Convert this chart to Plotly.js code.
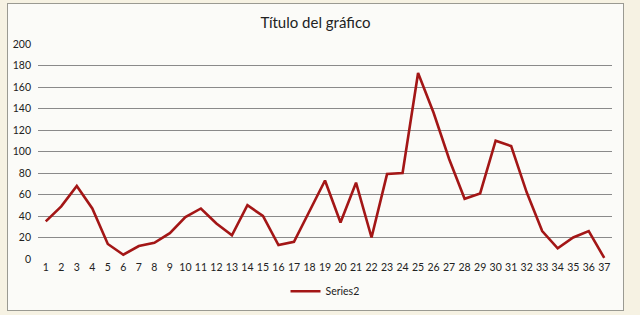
<!DOCTYPE html>
<html>
<head>
<meta charset="utf-8">
<script src="https://cdn.plot.ly/plotly-3.0.1.min.js"></script>
<style>
  html, body { margin:0; padding:0; width:640px; height:315px; background:#f6f2e3; overflow:hidden; }
  #chart { position:absolute; left:7px; top:3px; width:615px; height:306px; border:1px solid #9a9a92; background:#fbfbf8; }
</style>
</head>
<body>
<div id="chart"></div>
<script>
const categories = ["1","2","3","4","5","6","7","8","9","10","11","12","13","14","15","16","17","18","19","20","21","22","23","24","25","26","27","28","29","30","31","32","33","34","35","36","37"];
const series2 = [35, 49, 68, 47, 14, 4, 12, 15, 24, 39, 47, 33, 22, 50, 40, 13, 16, 44, 73, 34, 71, 20, 79, 80, 173, 136, 93, 56, 61, 110, 105, 62, 26, 10, 20, 26, 1];
const yTicks = [0, 20, 40, 60, 80, 100, 120, 140, 160, 180, 200];
const titleText = "Título del gráfico";
const seriesName = "Series2";

const trace = {
  x: categories,
  y: series2,
  type: 'scatter',
  mode: 'lines',
  name: seriesName,
  line: { color: '#a31616', width: 2.6 },
  showlegend: true
};

const layout = {
  width: 615,
  height: 306,
  margin: { l: 30, r: 11, t: 40, b: 51, autoexpand: false },
  paper_bgcolor: 'rgba(0,0,0,0)',
  plot_bgcolor: 'rgba(0,0,0,0)',
  font: { family: 'Lato, "Open Sans", sans-serif', color: '#222' },
  title: {
    text: titleText,
    font: { family: 'Lato, "Open Sans", sans-serif', size: 15, color: '#222' },
    x: 0.5, xanchor: 'center', y: 0.94, yanchor: 'middle'
  },
  xaxis: {
    type: 'category',
    range: [-0.5, categories.length - 0.5],
    showgrid: false,
    zeroline: false,
    showline: false,
    ticks: '',
    tickfont: { size: 10.5, color: '#222' },
    tickangle: 0,
    fixedrange: true
  },
  yaxis: {
    range: [0, 200],
    tickvals: yTicks,
    ticktext: yTicks.map(String),
    showgrid: true,
    gridcolor: '#8a8a8a',
    gridwidth: 1,
    zeroline: false,
    showline: false,
    ticks: '',
    ticklabelstandoff: 6,
    tickfont: { size: 10.5, color: '#222' },
    fixedrange: true
  },
  legend: {
    orientation: 'h',
    x: 0.5, xanchor: 'center',
    y: -0.15, yanchor: 'middle',
    font: { size: 10.5, color: '#222' },
    bgcolor: 'rgba(0,0,0,0)',
    itemwidth: 30
  },
  showlegend: true
};

Plotly.newPlot('chart', [trace], layout, { displayModeBar: false, staticPlot: true });
</script>
</body>
</html>
